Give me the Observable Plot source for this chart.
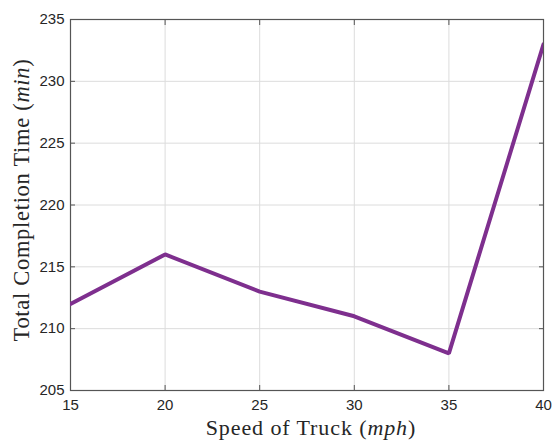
<!DOCTYPE html>
<html><head><meta charset="utf-8">
<script src="https://cdn.jsdelivr.net/npm/d3@7"></script>
<script src="https://cdn.jsdelivr.net/npm/@observablehq/plot@0.6"></script>
<style>body{margin:0;background:#fff}</style>
</head><body><div id="chart"></div>
<script>
const speeds = [15, 20, 25, 30, 35, 40];
const times = [212, 216, 213, 211, 208, 233];
const xTicks = [15, 20, 25, 30, 35, 40];
const yTicks = [205, 210, 215, 220, 225, 230, 235];

const data = speeds.map((s, i) => ({speed: s, time: times[i]}));
const axisColor = "#555";

const plot = Plot.plot({
  width: 552, height: 440,
  marginLeft: 70, marginRight: 9, marginTop: 19, marginBottom: 50,
  style: {fontFamily: "Liberation Sans", fontSize: "15px", color: "#262626", background: "#fff"},
  x: {domain: [15, 40], ticks: xTicks, label: null},
  y: {domain: [205, 235], ticks: yTicks, label: null},
  marks: [
    Plot.gridX(xTicks, {stroke: "#dcdcdc", strokeOpacity: 1}),
    Plot.gridY(yTicks, {stroke: "#dcdcdc", strokeOpacity: 1}),
    Plot.axisX(xTicks, {anchor: "bottom", tickSize: 0, tickPadding: 9, label: null, fill: "#262626", fontSize: 15}),
    Plot.axisY(yTicks, {anchor: "left", tickSize: 0, tickPadding: 6, label: null, fill: "#262626", fontSize: 15}),
    Plot.axisX(xTicks, {anchor: "bottom", tickSize: -5, text: null, label: null, stroke: axisColor}),
    Plot.axisX(xTicks, {anchor: "top", tickSize: -5, text: null, label: null, stroke: axisColor}),
    Plot.axisY(yTicks, {anchor: "left", tickSize: -5, text: null, label: null, stroke: axisColor}),
    Plot.axisY(yTicks, {anchor: "right", tickSize: -5, text: null, label: null, stroke: axisColor}),
    Plot.frame({stroke: axisColor, strokeWidth: 1.2}),
    Plot.line(data, {x: "speed", y: "time", stroke: "#7E2F8E", strokeWidth: 4, strokeLinejoin: "miter", clip: true})
  ]
});

const svg = d3.select(plot);
const xl = svg.append("text")
  .attr("x", 311).attr("y", 435)
  .attr("text-anchor", "middle")
  .attr("letter-spacing", "0.9px")
  .attr("font-family", "Liberation Serif").attr("font-size", 22).attr("fill", "#262626");
xl.append("tspan").text("Speed of Truck (");
xl.append("tspan").attr("font-style", "italic").text("mph");
xl.append("tspan").text(")");

const yl = svg.append("text")
  .attr("transform", "translate(29,200) rotate(-90)")
  .attr("text-anchor", "middle")
  .attr("letter-spacing", "0.7px")
  .attr("font-family", "Liberation Serif").attr("font-size", 22.5).attr("fill", "#262626");
yl.append("tspan").text("Total Completion Time (");
yl.append("tspan").attr("font-style", "italic").text("min");
yl.append("tspan").text(")");

document.getElementById("chart").appendChild(plot);
</script></body></html>
